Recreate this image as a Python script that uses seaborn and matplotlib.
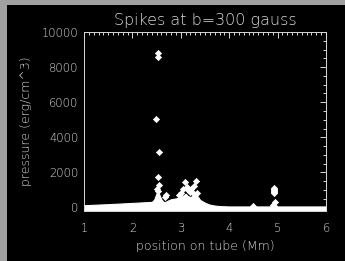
import matplotlib
matplotlib.use("Agg")
import matplotlib.pyplot as plt
from matplotlib.patches import Rectangle
from matplotlib.ticker import MultipleLocator
import seaborn as sns
import pandas as pd

# ---- data ----
band_x = [1.0, 1.5, 2.0, 2.4, 2.45, 2.5, 2.55, 2.6, 2.65, 2.7, 2.75, 2.8, 2.9, 3.0,
          3.05, 3.1, 3.15, 3.2, 3.25, 3.3, 3.35, 3.4, 3.5, 3.6, 3.7, 3.8, 4.0, 4.45,
          4.5, 4.55, 4.85, 4.9, 4.95, 5.0, 5.5, 6.0]
band_upper = [130, 190, 260, 320, 450, 820, 780, 450, 300, 340, 420, 470, 520, 600,
              680, 780, 640, 600, 680, 780, 620, 430, 270, 160, 110, 80, 60, 60,
              170, 60, 60, 250, 180, 60, 60, 60]
band_lower = [-150, -150, -150, -150, -150, -150, -150, -150, -150, -150, -150, -150,
              -150, -150, -150, -150, -150, -150, -150, -150, -150, -150, -150, -150,
              -150, -150, -150, -150, -150, -150, -150, -150, -150, -150, -150, -150]

spike_x = [2.53, 2.53, 2.49, 2.55, 2.53, 2.54, 2.50, 2.52, 2.69, 2.68, 2.97, 3.04,
           3.09, 3.12, 3.21, 3.18, 3.28, 3.31, 3.26, 3.33, 3.00, 3.15,
           4.93, 4.93, 4.93, 4.93, 4.93, 4.93, 4.94, 4.90, 4.50]
spike_y = [8800, 8600, 5030, 3150, 1760, 1300, 1050, 950, 710, 600, 700, 1040,
           1450, 1150, 1050, 900, 1250, 1530, 850, 800, 850, 1000,
           1120, 1060, 1000, 940, 880, 820, 330, 150, 100]

title = "Spikes at b=300 gauss"
xlabel = "position on tube (Mm)"
ylabel = "pressure (erg/cm^3)"
xticks = [1, 2, 3, 4, 5, 6]
yticks = [0, 2000, 4000, 6000, 8000, 10000]

# ---- figure ----
sns.set_style("dark")
fg = "#d8d8d8"
plt.rcParams["font.family"] = ["DejaVu Sans"]
plt.rcParams["font.weight"] = "light"

fig = plt.figure(figsize=(3.45, 2.61), dpi=100, facecolor="#a0a0a0")
fig.patches.append(Rectangle((7 / 345, 0), 1 - 7 / 345, 1 - 5 / 261,
                             transform=fig.transFigure, facecolor="black",
                             edgecolor="none", zorder=-10))
ax = fig.add_axes([84 / 345, 1 - 211 / 261, (326 - 84) / 345, (211 - 32) / 261])
ax.set_facecolor("black")

ax.fill_between(band_x, band_lower, band_upper, color="white", linewidth=0.8,
                edgecolor="white")
df = pd.DataFrame({"x": spike_x, "y": spike_y})
sns.scatterplot(data=df, x="x", y="y", ax=ax, marker="D", s=10, color="white",
                edgecolor="white", linewidth=0.5, zorder=5)

ax.set_xlim(1, 6)
ax.set_ylim(-200, 10000)
ax.set_xticks(xticks)
ax.set_xticklabels([str(t) for t in xticks])
ax.set_yticks(yticks)
ax.set_yticklabels([str(t) for t in yticks])
ax.xaxis.set_minor_locator(MultipleLocator(0.1))
ax.yaxis.set_minor_locator(MultipleLocator(500))
ax.grid(False)

ax.tick_params(which="both", direction="in", top=True, right=True, color=fg,
               labelcolor=fg, width=0.7)
ax.tick_params(which="major", length=4, labelsize=8.3)
ax.tick_params(which="minor", length=2)
ax.tick_params(axis="x", which="major", pad=8)
ax.tick_params(axis="y", which="major", pad=4)
for s in ax.spines.values():
    s.set_color(fg)
    s.set_linewidth(0.7)

ax.set_xlabel(xlabel, color=fg, fontsize=9, labelpad=4, fontweight="light")
ax.set_ylabel(ylabel, color=fg, fontsize=9, labelpad=7, fontweight="light")
ax.set_title(title, color=fg, fontsize=11.5, pad=5, fontweight="light")

fig.savefig("out.png", dpi=100, facecolor=fig.get_facecolor())
